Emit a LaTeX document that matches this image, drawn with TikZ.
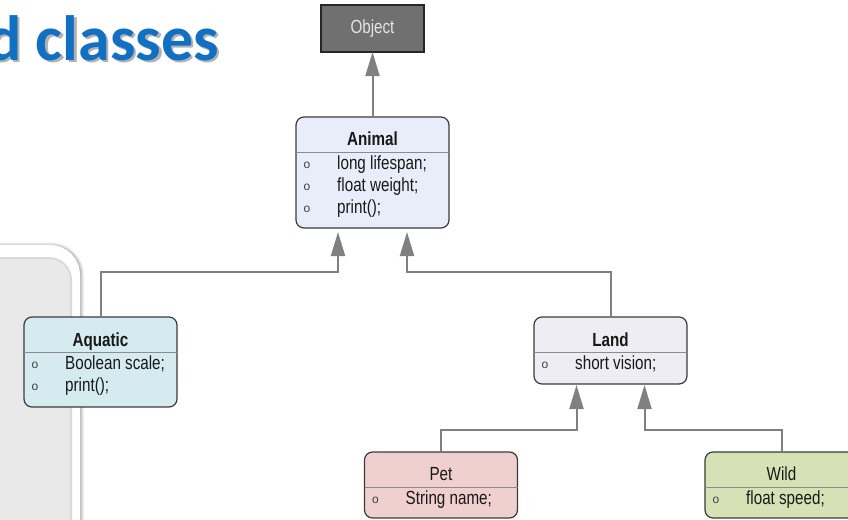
\documentclass[tikz,border=0pt]{standalone}
\usepackage{fontspec}
\setmainfont{Liberation Sans}
\newfontfamily\boxfont[FakeStretch=0.8]{Liberation Sans}
\newfontfamily\headfont{Carlito}
\usetikzlibrary{arrows.meta,calc,shadows.blur}

\definecolor{titleblue}{HTML}{1170C4}
\definecolor{conngray}{HTML}{808080}
\definecolor{boxborder}{HTML}{3A3A3A}
\definecolor{sepgray}{HTML}{8C8C8C}
\definecolor{animalfill}{HTML}{E8EDF9}
\definecolor{aquaticfill}{HTML}{D5EBF0}
\definecolor{landfill}{HTML}{EFEDF4}
\definecolor{petfill}{HTML}{F0CFCF}
\definecolor{wildfill}{HTML}{D6E2B5}
\definecolor{objfill}{HTML}{707070}
\definecolor{objborder}{HTML}{262626}
\definecolor{objtext}{HTML}{E4E4E4}
\definecolor{panelgray}{HTML}{E9E9E9}
\definecolor{paneledge}{HTML}{DADADA}

\tikzset{
  classbox/.style={draw=boxborder, line width=1.2pt, rounded corners=8pt,
    inner sep=0pt, outer sep=0pt},
  sepline/.style={draw=sepgray, line width=1pt},
  clstitle/.style={anchor=base, inner sep=0pt, text=black!90,
    font={\boxfont\fontsize{19pt}{22pt}\selectfont}},
  rowtext/.style={anchor=base west, inner sep=0pt, text=black!90,
    font={\boxfont\fontsize{19pt}{22pt}\selectfont}},
  bulletmark/.style={anchor=base, inner sep=0pt, text=black!75,
    font={\fontsize{12pt}{12pt}\selectfont}},
  objbox/.style={draw=objborder, line width=2pt, fill=objfill, inner sep=0pt,
    outer sep=0pt, minimum width=103pt, minimum height=47pt, text=objtext,
    font={\boxfont\fontsize{19pt}{22pt}\selectfont}},
  conn/.style={draw=conngray, line width=2pt,
    -{Triangle[length=24pt,width=14pt]}},
}

\begin{document}
\begin{tikzpicture}[x=1pt,y=-1pt]
\useasboundingbox (0,0) rectangle (848,519);
\clip (0,0) rectangle (848,519);

% side panel on the left
\fill[white, rounded corners=30pt,
  blur shadow={shadow xshift=1.5pt, shadow yshift=0pt,
    shadow blur radius=3pt, shadow opacity=40}]
  (-40,245) rectangle (80,580);
\fill[panelgray, draw=paneledge, line width=2pt, rounded corners=22pt]
  (-40,258) rectangle (71,580);

% heading
\node[anchor=base east, inner sep=0pt, text=black, opacity=0.3,
  font={\headfont\bfseries\fontsize{64pt}{64pt}\selectfont}]
  (heading-shadow) at (221.5,62.5) {d classes};
\node[anchor=base east, inner sep=0pt, text=titleblue,
  font={\headfont\bfseries\fontsize{64pt}{64pt}\selectfont}]
  (heading) at (219,60) {d classes};

% class boxes
\node[objbox] (object) at (372.5,28.5) {Object};
\node[classbox, fill=animalfill, minimum width=153pt, minimum height=111pt]
  (animal) at (372.5,172.5) {};
\node[classbox, fill=aquaticfill, minimum width=153pt, minimum height=90pt]
  (aquatic) at (100.5,362) {};
\node[classbox, fill=landfill, minimum width=153pt, minimum height=67pt]
  (land) at (610.5,350.5) {};
\node[classbox, fill=petfill, minimum width=153pt, minimum height=66pt]
  (pet) at (441,485) {};
\node[classbox, fill=wildfill, minimum width=153pt, minimum height=66pt]
  (wild) at (781.5,485) {};

% separators under the titles
\foreach \b in {animal,aquatic,land,pet,wild}
  \draw[sepline] ($(\b.north west)+(0,35)$) -- ($(\b.north east)+(0,35)$);

% titles
\node[clstitle, font={\boxfont\bfseries\fontsize{19pt}{22pt}\selectfont}]
  (animal-t) at ($(animal.north)+(0,28)$) {Animal};
\node[clstitle, font={\boxfont\bfseries\fontsize{19pt}{22pt}\selectfont}]
  (aquatic-t) at ($(aquatic.north)+(0,29)$) {Aquatic};
\node[clstitle, font={\boxfont\bfseries\fontsize{19pt}{22pt}\selectfont}]
  (land-t) at ($(land.north)+(0,29)$) {Land};
\node[clstitle] (pet-t) at ($(pet.north)+(0,28)$) {Pet};
\node[clstitle] (wild-t) at ($(wild.north)+(0,28)$) {Wild};

% members
\foreach \b/\n/\txt in {animal/0/long lifespan;, animal/1/float weight;,
    animal/2/print();, aquatic/0/Boolean scale;, aquatic/1/print();,
    land/0/short vision;, pet/0/String name;, wild/0/float speed;} {
  \node[bulletmark] (\b-o\n) at ($(\b.north west)+(11,51+22*\n)$) {o};
  \node[rowtext] (\b-m\n) at ($(\b.north west)+(41,52+22*\n)$) {\txt};
}

% inheritance connectors
\coordinate (busAq) at ($(animal.south)+(-34.5,44)$);
\coordinate (busLa) at ($(animal.south)+(34.5,44)$);
\coordinate (busPe) at ($(land.south)+(-34,46)$);
\coordinate (busWi) at ($(land.south)+(34,46)$);

\draw[conn] (animal.north) -- (object.south);
\draw[conn, shorten >=4pt] (aquatic.north) |- (busAq) -- (busAq |- animal.south);
\draw[conn, shorten >=4pt] (land.north) |- (busLa) -- (busLa |- animal.south);
\draw[conn, shorten >=1pt] (pet.north) |- (busPe) -- (busPe |- land.south);
\draw[conn, shorten >=1pt] (wild.north) |- (busWi) -- (busWi |- land.south);
\end{tikzpicture}
\end{document}
